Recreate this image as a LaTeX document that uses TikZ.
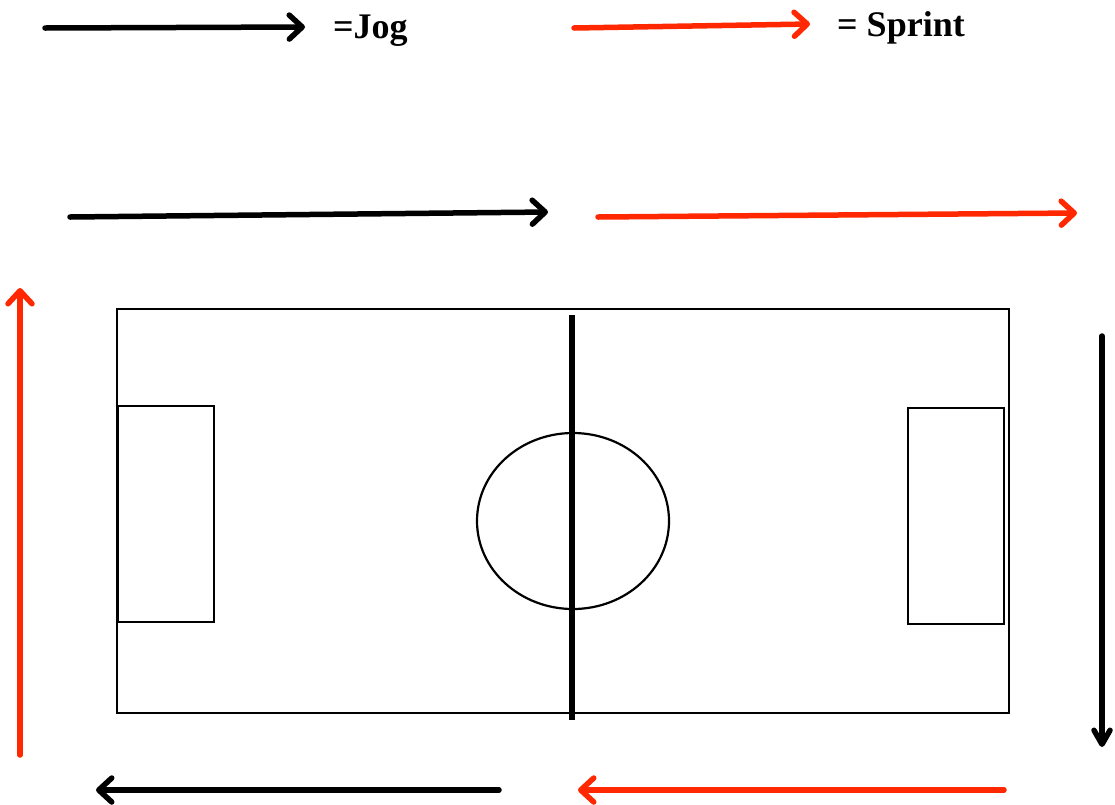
\documentclass[tikz,border=0pt]{standalone}
\usepackage{fontspec}
\setmainfont{Liberation Serif}
\usetikzlibrary{arrows.meta}
\definecolor{sprintred}{RGB}{255,40,0}
\tikzset{
  jog/.style={draw=black, line width=5.5pt, line cap=round,
    -{Straight Barb[length=13pt,width=24pt,line cap=round,line join=round]}},
  sprint/.style={jog, draw=sprintred},
  pitchline/.style={draw=black, line width=2.3pt},
  legendtext/.style={inner sep=0pt, anchor=base west, font=\fontsize{36}{40}\selectfont\bfseries}
}
\begin{document}
\begin{tikzpicture}[x=1pt,y=-1pt]
\useasboundingbox (0,0) rectangle (1115,804);
% legend
\coordinate (lj1) at (45,28); \coordinate (lj2) at (305,27);
\coordinate (ls1) at (574,28); \coordinate (ls2) at (810,24);
\draw[jog] (lj1) -- (lj2);
\draw[sprint] (ls1) -- (ls2);
\node[legendtext] (jogtxt) at (333,38) {=Jog};
\node[legendtext] (sprinttxt) at (837,36) {= Sprint};
% pitch
\node[pitchline, rectangle, minimum width=892pt, minimum height=404pt, inner sep=0pt] (field) at (563,511) {};
\node[pitchline, rectangle, minimum width=96pt, minimum height=216pt, inner sep=0pt, anchor=north west] (lbox) at (117,405) {};
\node[pitchline, rectangle, minimum width=96pt, minimum height=216pt, inner sep=0pt, anchor=north east] (rbox) at (1005,407) {};
\draw[line width=2.2pt] (573,521) ellipse [x radius=96, y radius=88];
\coordinate (c1) at (572,315); \coordinate (c2) at (572,720);
\draw[line width=5.5pt] (c1) -- (c2);
% running route
\coordinate (t1) at (70,217); \coordinate (t2) at (548,212);
\coordinate (t3) at (598,217); \coordinate (t4) at (1077,213);
\coordinate (r1) at (1102,336); \coordinate (r2) at (1102,747);
\coordinate (b1) at (1004,790); \coordinate (b2) at (578,790);
\coordinate (b3) at (499,790); \coordinate (b4) at (96,790);
\coordinate (l1) at (20,755); \coordinate (l2) at (20,288);
\draw[jog] (t1) -- (t2);
\draw[sprint] (t3) -- (t4);
\draw[jog, -{Straight Barb[length=14pt,width=16pt,line cap=round,line join=round]}] (r1) -- (r2);
\draw[sprint] (b1) -- (b2);
\draw[jog] (b3) -- (b4);
\draw[sprint] (l1) -- (l2);
\end{tikzpicture}
\end{document}
